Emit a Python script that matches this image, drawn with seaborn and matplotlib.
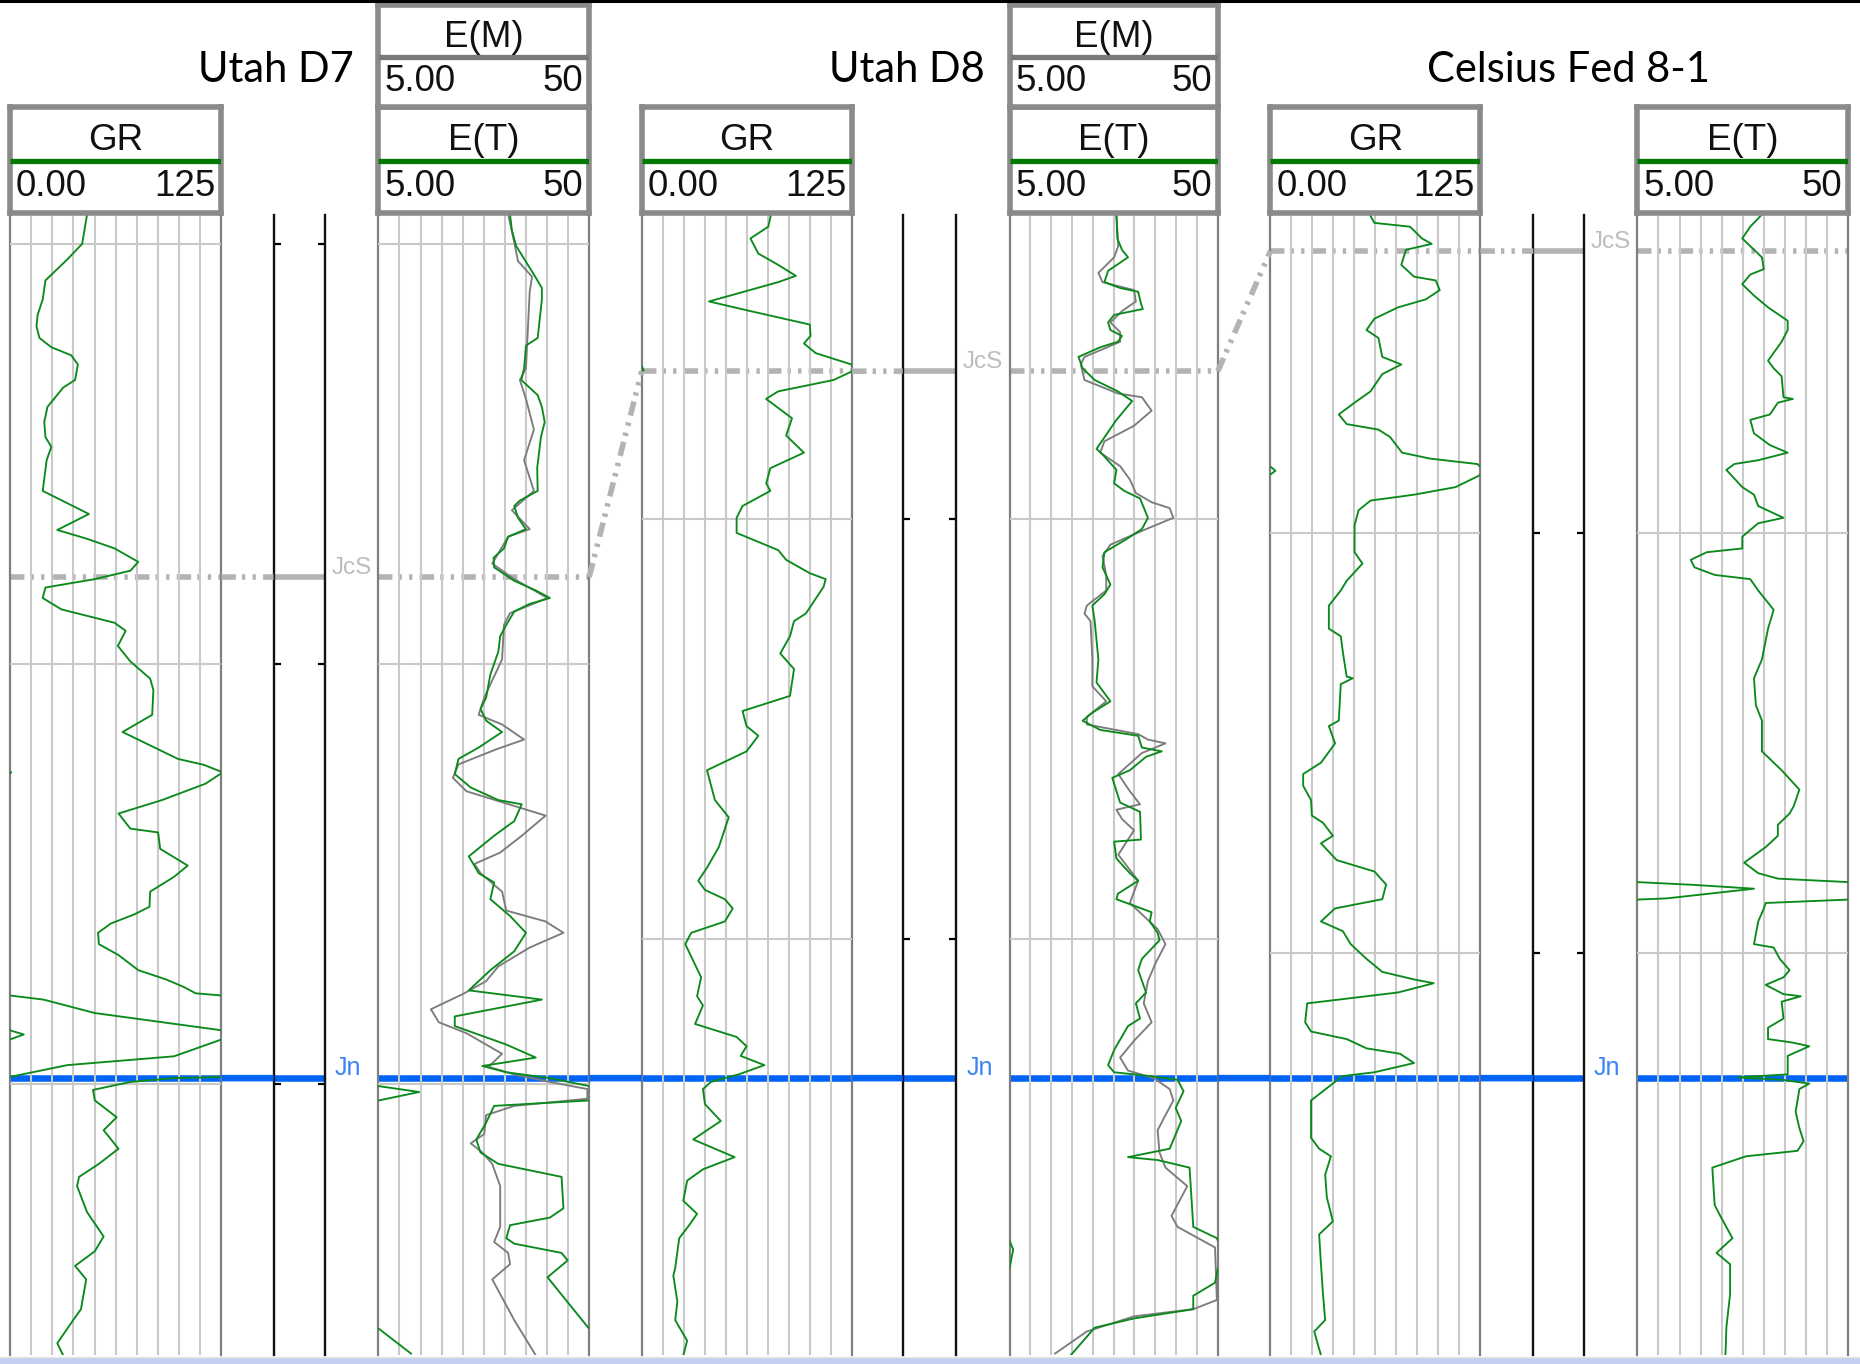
import numpy as np
import matplotlib
matplotlib.use("Agg")
import matplotlib.pyplot as plt
import matplotlib.transforms as mtransforms
from matplotlib.patches import ConnectionPatch, Rectangle
from matplotlib.lines import Line2D
import seaborn as sns

# ------------------------------------------------------------------ data
WELL_NAMES = ["Utah D7", "Utah D8", "Celsius Fed 8-1"]
GR_SCALE = (0.0, 125.0)
E_SCALE = (5.0, 50.0)
GR_LABELS = ("0.00", "125")
E_LABELS = ("5.00", "50")
WELL_TOP_DEPTH = [1693.0, 1427.6, 1124.2]   # ft at top of displayed interval
DEPTH_SPAN = 271.6                           # ft shown in every well
JCS_DEPTH = [1779.3, 1464.9, 1132.9]
JN_DEPTH = [1898.6, 1633.2, 1329.8]

D7_GR_DEPTH = [1693.0, 1695.9, 1700.0, 1703.7, 1708.7, 1713.2, 1716.9, 1719.6, 1722.4, 1724.6,
               1726.5, 1728.7, 1732.4, 1734.2, 1738.8, 1742.4, 1746.0, 1748.3, 1751.5, 1758.8,
               1764.3, 1768.1, 1770.2, 1772.5, 1775.7, 1777.8, 1779.8, 1781.8, 1784.3, 1787.0,
               1790.2, 1792.1, 1795.7, 1799.4, 1803.5, 1806.2, 1812.1, 1816.2, 1822.6, 1824.0,
               1825.8, 1828.5, 1832.4, 1835.6, 1839.2, 1840.1, 1844.0, 1848.0, 1850.7, 1854.2,
               1857.8, 1859.6, 1861.8, 1864.0, 1866.7, 1869.3, 1872.9, 1875.1, 1876.9, 1878.4,
               1878.9, 1879.9, 1883.1, 1887.2, 1888.2, 1889.4, 1893.4, 1895.5, 1898.3, 1898.6,
               1899.5, 1901.4, 1903.9, 1907.9, 1911.0, 1915.4, 1919.0, 1922.1, 1924.3, 1930.5,
               1936.3, 1939.8, 1943.3, 1946.5, 1953.6, 1956.2, 1961.7, 1964.6]
D7_GR_VALUE = [45.6, 44.4, 42.7, 33.9, 21.0, 19.4, 16.4, 15.7, 17.5, 24.5,
               36.2, 40.2, 38.5, 31.5, 22.2, 20.3, 21.0, 24.5, 21.7, 19.4,
               46.7, 28.0, 45.6, 61.9, 75.9, 71.2, 50.2, 21.0, 19.4, 30.4,
               61.9, 68.4, 63.8, 71.2, 82.9, 84.8, 84.1, 66.6, 99.3, 114.5,
               125.8, 115.6, 89.9, 64.2, 71.2, 87.6, 88.8, 105.1, 96.9, 82.9,
               82.5, 73.6, 59.6, 52.1, 52.6, 64.2, 75.9, 92.3, 102.8, 109.8,
               124.5, 144.9, 175.2, 250.0, 258.2, 250.0, 222.0, 158.9, 125.0, 97.0,
               71.2, 49.1, 50.2, 63.1, 55.4, 64.2, 52.6, 40.9, 39.7, 45.6,
               55.4, 50.2, 38.5, 45.1, 42.0, 37.4, 28.0, 31.5]

D7_ET_DEPTH = [1693.0, 1696.8, 1700.5, 1707.3, 1710.5, 1713.2, 1722.4, 1724.2, 1729.6, 1732.4,
               1736.0, 1738.8, 1742.4, 1746.0, 1753.3, 1758.8, 1761.1, 1762.4, 1765.2, 1767.9,
               1769.7, 1772.5, 1774.7, 1777.0, 1780.2, 1782.5, 1784.3, 1785.7, 1787.5, 1790.7,
               1793.4, 1797.1, 1802.5, 1808.0, 1810.7, 1813.5, 1816.2, 1819.9, 1822.6, 1826.2,
               1829.4, 1832.4, 1833.4, 1837.4, 1840.9, 1845.8, 1849.8, 1852.0, 1856.0, 1860.0,
               1864.0, 1868.4, 1872.9, 1877.7, 1879.9, 1883.9, 1886.2, 1890.6, 1893.7, 1895.7,
               1897.2, 1898.6, 1900.5, 1901.9, 1903.9, 1905.2, 1909.2, 1913.2, 1916.3, 1919.0,
               1922.1, 1929.6, 1931.8, 1933.6, 1936.7, 1938.0, 1940.2, 1942.0, 1946.0, 1958.0,
               1964.2]
D7_ET_VALUE = [33.1, 33.5, 34.4, 38.2, 39.9, 39.9, 39.0, 36.5, 36.1, 35.5,
               39.0, 39.9, 40.5, 39.7, 38.9, 39.0, 35.2, 34.0, 34.8, 36.5,
               32.7, 31.8, 29.6, 29.7, 34.0, 38.6, 41.6, 37.3, 34.0, 32.3,
               31.0, 30.6, 28.9, 28.0, 26.8, 28.0, 31.4, 26.4, 22.1, 21.3,
               24.7, 30.6, 35.6, 34.0, 29.7, 24.3, 26.4, 29.7, 28.9, 33.1,
               36.5, 34.0, 28.9, 24.3, 39.9, 21.3, 21.3, 32.3, 38.6, 27.2,
               32.3, 41.6, 50.1, 58.7, 50.1, 29.7, 28.0, 25.9, 26.8, 30.6,
               44.1, 44.5, 41.6, 33.1, 32.3, 34.0, 44.1, 45.4, 41.1, 49.8,
               57.0]

D7_EM_DEPTH = [1693.0, 1699.6, 1704.1, 1707.8, 1711.4, 1720.5, 1729.6, 1732.4, 1736.9, 1744.2,
               1751.5, 1758.8, 1763.4, 1767.9, 1769.7, 1776.1, 1779.8, 1784.3, 1787.9, 1790.7,
               1798.9, 1808.0, 1812.1, 1814.4, 1818.0, 1820.3, 1823.9, 1827.1, 1830.3, 1836.1,
               1840.9, 1844.9, 1847.6, 1849.8, 1854.2, 1858.7, 1861.3, 1864.0, 1867.5, 1872.0,
               1875.5, 1878.6, 1882.2, 1885.3, 1887.9, 1892.8, 1895.9, 1897.7, 1899.5, 1901.2,
               1903.5, 1905.2, 1907.4, 1911.9, 1914.1, 1916.3, 1919.0, 1924.3, 1934.0, 1937.6,
               1940.2, 1942.9, 1946.5, 1956.2, 1964.6]
D7_EM_VALUE = [32.7, 34.0, 34.8, 37.8, 37.3, 36.9, 36.5, 35.2, 36.5, 38.2,
               36.1, 38.2, 33.5, 37.3, 32.7, 29.3, 34.0, 41.1, 33.1, 31.8,
               31.4, 27.6, 26.4, 31.4, 36.1, 30.2, 22.1, 20.9, 23.8, 40.7,
               35.6, 31.0, 25.5, 26.8, 31.4, 32.3, 40.7, 44.5, 37.3, 30.6,
               28.0, 23.0, 16.2, 17.9, 23.8, 31.4, 28.5, 34.0, 41.6, 49.6,
               49.6, 34.0, 28.0, 27.6, 24.7, 27.2, 29.3, 31.0, 31.0, 29.7,
               32.7, 33.1, 29.3, 34.0, 38.6]

D8_GR_DEPTH = [1427.6, 1430.5, 1433.3, 1436.9, 1439.6, 1442.2, 1443.7, 1448.3, 1450.6, 1453.8,
               1456.5, 1458.3, 1460.6, 1463.3, 1464.7, 1467.0, 1469.7, 1471.5, 1476.1, 1480.2,
               1484.3, 1488.0, 1491.6, 1493.4, 1497.0, 1499.8, 1503.4, 1507.5, 1509.8, 1513.0,
               1514.4, 1516.2, 1522.6, 1524.4, 1528.0, 1532.1, 1535.8, 1542.2, 1545.8, 1549.4,
               1551.7, 1555.4, 1559.9, 1567.0, 1571.1, 1578.2, 1583.1, 1586.2, 1588.4, 1590.6,
               1592.8, 1595.9, 1598.6, 1601.3, 1609.2, 1613.7, 1615.9, 1620.3, 1623.4, 1625.6,
               1627.9, 1630.1, 1632.3, 1634.1, 1635.8, 1639.4, 1643.4, 1647.8, 1652.0, 1654.9,
               1657.6, 1662.4, 1665.5, 1668.2, 1671.3, 1678.4, 1680.2, 1686.4, 1690.8, 1695.7,
               1699.2]
D8_GR_VALUE = [76.8, 75.2, 64.6, 69.3, 81.1, 91.6, 81.1, 40.0, 64.6, 99.9,
               100.3, 96.4, 103.4, 124.6, 126.2, 114.0, 81.1, 73.9, 89.3, 85.8,
               96.4, 76.4, 74.0, 76.4, 59.9, 56.4, 56.4, 81.1, 85.8, 99.9,
               109.3, 108.1, 97.5, 90.5, 88.1, 82.3, 90.5, 88.1, 59.9, 62.3,
               69.3, 62.3, 38.8, 43.5, 51.7, 45.8, 38.8, 33.6, 37.6, 49.4,
               54.1, 49.4, 29.4, 25.9, 35.3, 32.9, 36.4, 31.7, 56.4, 62.3,
               58.8, 72.9, 57.6, 41.1, 36.4, 37.6, 47.0, 30.6, 55.2, 36.4,
               27.0, 24.7, 32.9, 28.2, 22.3, 19.9, 18.8, 21.2, 19.9, 27.0,
               24.7]

D8_ET_DEPTH = [1427.6, 1433.3, 1436.0, 1437.8, 1441.0, 1443.7, 1445.1, 1446.0, 1448.8, 1450.1,
               1451.5, 1453.3, 1455.1, 1456.5, 1457.9, 1459.2, 1461.5, 1464.2, 1467.0, 1469.7,
               1472.0, 1476.5, 1483.4, 1484.7, 1488.4, 1491.6, 1493.4, 1495.2, 1499.8, 1502.5,
               1505.2, 1508.0, 1511.6, 1515.7, 1518.0, 1520.7, 1524.4, 1533.5, 1539.0, 1543.5,
               1546.2, 1548.1, 1550.3, 1551.7, 1554.5, 1555.4, 1556.7, 1559.9, 1561.7, 1567.6,
               1569.8, 1576.4, 1576.9, 1580.9, 1584.4, 1586.2, 1589.3, 1590.6, 1593.7, 1595.9,
               1598.6, 1600.4, 1604.8, 1607.5, 1612.8, 1615.4, 1619.0, 1620.8, 1626.5, 1630.1,
               1631.8, 1632.7, 1633.6, 1636.3, 1640.3, 1643.4, 1650.0, 1652.0, 1652.7, 1654.5,
               1668.6, 1671.3, 1674.0, 1681.9, 1685.0, 1688.2, 1690.4, 1692.6, 1699.2]
D8_ET_VALUE = [28.1, 28.3, 29.3, 30.6, 26.3, 25.5, 28.9, 32.8, 33.4, 33.8,
               27.6, 26.3, 26.8, 29.3, 28.4, 24.6, 19.9, 20.8, 23.4, 28.4,
               31.5, 28.1, 23.8, 25.1, 28.1, 27.6, 29.8, 33.2, 34.9, 33.6,
               29.8, 25.5, 25.1, 26.8, 25.5, 22.9, 23.4, 24.2, 23.8, 26.8,
               22.9, 20.8, 24.6, 32.8, 33.6, 37.9, 34.5, 31.0, 27.2, 28.9,
               33.2, 33.4, 27.6, 28.1, 31.0, 32.8, 28.4, 28.1, 35.7, 35.3,
               37.0, 37.4, 33.6, 32.8, 34.5, 32.3, 33.2, 30.6, 27.6, 26.3,
               27.6, 35.3, 41.3, 42.6, 40.9, 42.1, 39.6, 30.6, 37.0, 43.9,
               44.7, 49.8, 50.8, 49.4, 44.7, 44.7, 31.9, 23.4, 18.2]

D8_EM_DEPTH = [1427.6, 1435.1, 1437.8, 1441.5, 1443.7, 1445.6, 1448.3, 1450.6, 1453.3, 1455.6,
               1457.9, 1461.5, 1463.3, 1467.0, 1470.2, 1471.1, 1474.3, 1477.9, 1481.6, 1484.3,
               1487.5, 1490.7, 1493.9, 1496.1, 1497.5, 1499.8, 1502.5, 1506.2, 1508.9, 1513.5,
               1517.1, 1520.7, 1522.6, 1524.4, 1533.5, 1539.9, 1543.5, 1547.2, 1549.0, 1551.3,
               1552.6, 1553.5, 1555.8, 1560.8, 1564.9, 1568.0, 1569.3, 1571.5, 1574.2, 1580.0,
               1586.2, 1591.5, 1597.7, 1601.3, 1605.7, 1610.1, 1615.4, 1619.9, 1624.3, 1628.3,
               1631.4, 1633.2, 1635.8, 1638.5, 1642.0, 1645.6, 1650.9, 1654.5, 1658.9, 1666.0,
               1668.6, 1673.5, 1686.0, 1688.2, 1689.9, 1693.5, 1698.8]
D8_EM_VALUE = [28.1, 28.5, 27.6, 24.2, 25.1, 31.9, 32.3, 29.3, 26.8, 28.9,
               28.9, 21.2, 20.4, 21.2, 28.4, 33.6, 35.7, 31.9, 25.5, 24.6,
               28.9, 31.0, 32.3, 35.7, 39.6, 40.4, 34.5, 26.8, 25.1, 25.9,
               25.9, 21.7, 21.2, 22.5, 22.9, 22.9, 25.9, 21.7, 21.7, 32.8,
               34.9, 38.7, 33.6, 28.5, 31.0, 33.2, 28.1, 29.3, 31.9, 28.5,
               32.8, 31.0, 37.0, 38.7, 36.6, 34.9, 34.0, 35.7, 31.9, 28.9,
               30.6, 36.2, 39.6, 40.4, 38.7, 37.0, 37.4, 38.7, 43.4, 40.0,
               41.3, 49.4, 49.8, 44.7, 31.9, 21.7, 14.8]

CF_GR_DEPTH = [1124.2, 1126.2, 1127.1, 1129.9, 1131.2, 1132.6, 1136.2, 1139.0, 1139.9, 1142.2,
               1144.4, 1146.3, 1149.0, 1151.7, 1153.6, 1158.1, 1159.9, 1162.2, 1166.3, 1169.0,
               1171.8, 1174.1, 1175.4, 1177.2, 1180.9, 1182.3, 1183.6, 1185.2, 1186.4, 1189.1,
               1190.9, 1192.3, 1194.6, 1198.2, 1204.6, 1207.3, 1211.4, 1213.7, 1217.3, 1222.8,
               1224.6, 1228.3, 1234.2, 1234.6, 1236.0, 1244.7, 1246.0, 1250.1, 1254.7, 1257.4,
               1260.2, 1263.6, 1267.3, 1269.0, 1272.1, 1273.9, 1277.9, 1280.6, 1283.7, 1287.2,
               1289.4, 1292.5, 1294.8, 1297.9, 1301.4, 1304.5, 1306.3, 1307.2, 1309.4, 1312.0,
               1316.5, 1318.7, 1320.5, 1322.7, 1324.0, 1326.2, 1328.4, 1329.3, 1330.7, 1335.1,
               1344.0, 1346.6, 1348.4, 1352.8, 1358.2, 1363.9, 1367.0, 1374.1, 1381.2, 1387.4,
               1390.1, 1395.8]
CF_GR_VALUE = [59.1, 61.9, 83.1, 90.2, 96.0, 80.7, 77.9, 85.5, 98.4, 100.8,
               92.5, 76.0, 61.9, 57.2, 64.3, 66.6, 77.9, 66.6, 59.6, 50.1,
               40.7, 45.4, 64.3, 71.3, 78.4, 94.9, 123.1, 128.0, 124.0, 110.2,
               85.5, 59.6, 52.5, 50.1, 50.1, 54.8, 45.4, 41.9, 34.8, 34.8,
               41.9, 43.1, 45.4, 49.0, 41.9, 40.7, 34.8, 38.5, 30.1, 19.5,
               19.5, 24.2, 24.7, 31.3, 37.2, 30.1, 39.5, 61.9, 68.9, 66.6,
               38.4, 30.1, 43.1, 47.8, 57.2, 66.6, 85.5, 97.2, 76.0, 21.9,
               20.7, 24.2, 45.4, 57.2, 77.2, 85.5, 61.9, 43.1, 38.4, 24.2,
               24.2, 29.0, 36.0, 32.6, 33.6, 37.2, 29.0, 30.1, 31.3, 32.6,
               26.1, 30.1]

CF_ET_DEPTH = [1124.2, 1127.1, 1129.9, 1134.4, 1137.2, 1138.5, 1140.8, 1143.5, 1146.3, 1149.5,
               1151.7, 1154.5, 1159.0, 1160.8, 1162.7, 1167.7, 1168.1, 1169.0, 1171.8, 1173.1,
               1176.3, 1179.1, 1180.9, 1182.7, 1183.6, 1185.0, 1189.1, 1190.9, 1193.6, 1196.4,
               1197.7, 1200.9, 1203.7, 1204.6, 1206.4, 1208.2, 1210.0, 1211.0, 1213.7, 1218.3,
               1222.8, 1230.1, 1234.6, 1241.0, 1244.7, 1252.0, 1256.5, 1261.1, 1265.0, 1266.8,
               1269.5, 1272.1, 1274.8, 1278.5, 1281.0, 1282.3, 1283.8, 1284.7, 1287.0, 1288.1,
               1289.4, 1292.5, 1297.9, 1298.7, 1301.4, 1304.1, 1305.8, 1307.6, 1309.8, 1310.3,
               1311.6, 1315.6, 1317.8, 1320.5, 1321.3, 1322.2, 1324.5, 1328.9, 1329.6, 1330.2,
               1331.1, 1332.4, 1337.8, 1341.7, 1344.8, 1347.1, 1348.4, 1351.1, 1360.0, 1362.6,
               1367.9, 1371.4, 1374.1, 1381.2, 1389.2, 1395.8]
CF_ET_VALUE = [31.6, 29.1, 27.4, 31.6, 32.0, 29.1, 27.4, 29.9, 32.9, 37.1,
               37.1, 35.8, 32.9, 34.1, 35.8, 36.2, 38.2, 35.0, 33.3, 29.1,
               29.9, 33.3, 37.1, 30.8, 25.7, 24.0, 27.4, 29.9, 30.8, 36.2,
               30.8, 27.4, 27.4, 19.8, 16.4, 17.2, 21.5, 29.1, 30.8, 34.1,
               32.9, 31.6, 29.9, 30.3, 31.6, 31.6, 35.8, 39.6, 38.4, 37.5,
               35.0, 35.0, 32.4, 27.8, 30.8, 35.0, 62.2, 74.9, 56.3, 32.4,
               32.0, 30.8, 29.9, 34.1, 35.4, 37.5, 36.2, 32.4, 36.2, 39.9,
               35.8, 36.2, 32.9, 32.9, 38.0, 41.7, 37.1, 37.1, 26.5, 36.0,
               41.7, 39.6, 38.8, 39.6, 40.5, 39.2, 28.2, 21.0, 21.5, 22.7,
               25.3, 21.9, 24.8, 24.8, 24.0, 23.8]

# ------------------------------------------------------------------ style
GREEN = "#0b8a1c"
GRAYCURVE = "#7c7c7c"
GRID = "#c9c9c9"
EDGE = "#7f7f7f"
BOXC = "#8a8a8a"
HDR_GREEN = "#007a00"
JCS_COLOR = "#b3b3b3"
JCS_TEXT = "#bdbdbd"
JCS_LW = 4.0
JN_COLOR = "#0064f7"
JN_TEXT = "#3a84f7"
JN_LW = 4.7
DASHDOT2 = (0, (2.6, 1.1, 0.6, 1.3, 0.6, 1.3))

sns.set_style("white")
plt.rcParams["font.family"] = ["Liberation Sans", "DejaVu Sans"]

W, H = 1860, 1364
fig = plt.figure(figsize=(W / 100, H / 100), dpi=100)
fig.patch.set_facecolor("white")

TRACK_TOP, TRACK_BOT = 214.5, 1355.4
LAYOUT = [  # (GR x0,x1), (depth x0,x1), (E x0,x1)  in pixels
    ((9.9, 221.4), (273.6, 325.0), (378.4, 589.2)),
    ((641.7, 852.1), (902.7, 956.1), (1009.5, 1217.8)),
    ((1270.4, 1480.4), (1533.4, 1584.0), (1637.4, 1848.1)),
]
TITLE_POS = [(353.5, "right"), (984.5, "right"), (1427.0, "left")]


def box(x0, x1, y0, y1):
    return [x0 / W, 1 - y1 / H, (x1 - x0) / W, (y1 - y0) / H]


def wrap_segments(depth, value, lo, hi):
    span = hi - lo
    d = np.asarray(depth, float)
    v = np.asarray(value, float)
    k = np.floor((v - lo) / span).astype(int)
    segs = []
    cd, cv = [d[0]], [v[0]]
    cur = k[0]
    for i in range(1, len(d)):
        while k[i] != cur:
            step = 1 if k[i] > cur else -1
            b = lo + span * (cur + (1 if step > 0 else 0))
            t = (b - v[i - 1]) / (v[i] - v[i - 1])
            db = d[i - 1] + t * (d[i] - d[i - 1])
            cd.append(db)
            cv.append(b)
            segs.append((np.array(cd), np.array(cv) - cur * span))
            cur += step
            cd, cv = [db], [b]
        cd.append(d[i])
        cv.append(v[i])
    segs.append((np.array(cd), np.array(cv) - cur * span))
    return segs


def draw_curve(ax, depth, value, scale, color):
    lo, hi = scale
    for dd, vv in wrap_segments(depth, value, lo, hi):
        sns.lineplot(x=vv, y=dd, ax=ax, color=color, linewidth=1.35, sort=False,
                     estimator=None, errorbar=None, legend=False, zorder=3)


def depth_ticks(top):
    return np.arange(np.ceil(top / 100.0) * 100, top + DEPTH_SPAN, 100)


def make_track(xs):
    ax = fig.add_axes(box(xs[0], xs[1], TRACK_TOP, TRACK_BOT))
    ax.patch.set_alpha(0)
    return ax


def finish_track(ax, top, scale):
    lo, hi = scale
    ax.set_xlim(lo, hi)
    ax.set_ylim(top + DEPTH_SPAN, top)
    ax.set_xticks(np.linspace(lo, hi, 11)[1:-1])
    ax.set_yticks(depth_ticks(top))
    ax.set_axisbelow(False)
    ax.grid(True, color=GRID, lw=1.5)
    ax.tick_params(length=0, labelbottom=False, labelleft=False)
    ax.set_xlabel("")
    ax.set_ylabel("")
    for s in ("top", "bottom"):
        ax.spines[s].set_visible(False)
    for s in ("left", "right"):
        ax.spines[s].set_color(EDGE)
        ax.spines[s].set_linewidth(1.6)


def make_depth(xs, top):
    ax = fig.add_axes(box(xs[0], xs[1], TRACK_TOP, TRACK_BOT))
    ax.patch.set_alpha(0)
    ax.set_xlim(0, 1)
    ax.set_ylim(top + DEPTH_SPAN, top)
    ax.set_xticks([])
    ax.set_yticks(depth_ticks(top))
    ax.tick_params(axis="y", direction="in", length=5, width=1.6, color="black",
                   left=True, right=True, labelleft=False, labelright=False)
    for s in ("top", "bottom"):
        ax.spines[s].set_visible(False)
    for s in ("left", "right"):
        ax.spines[s].set_color("#111111")
        ax.spines[s].set_linewidth(1.7)
    return ax


def make_header(xs, y0, y1, name, labels, line_color):
    ax = fig.add_axes(box(xs[0], xs[1], y0, y1))
    ax.set_xlim(0, 1)
    ax.set_ylim(0, 1)
    ax.set_xticks([])
    ax.set_yticks([])
    for s in ax.spines.values():
        s.set_color(BOXC)
        s.set_linewidth(4.0)
    ax.axhline(0.49, color=line_color, lw=3.8, solid_capstyle="butt", zorder=3)
    ax.text(0.5, 0.68, name, ha="center", va="center", fontsize=26.5, color="#111111")
    ax.text(0.028, 0.25, labels[0], ha="left", va="center", fontsize=26.5, color="#111111")
    ax.text(0.972, 0.25, labels[1], ha="right", va="center", fontsize=26.5, color="#111111")
    return ax


def connect(axA, xyA, axB, xyB, **kw):
    cp = ConnectionPatch(xyA=xyA, coordsA=axA.transData, xyB=xyB, coordsB=axB.transData,
                         arrowstyle="-", **kw)
    cp.set_capstyle("butt")
    fig.add_artist(cp)


WELL_CURVES = [
    ((D7_GR_DEPTH, D7_GR_VALUE), (D7_ET_DEPTH, D7_ET_VALUE), (D7_EM_DEPTH, D7_EM_VALUE)),
    ((D8_GR_DEPTH, D8_GR_VALUE), (D8_ET_DEPTH, D8_ET_VALUE), (D8_EM_DEPTH, D8_EM_VALUE)),
    ((CF_GR_DEPTH, CF_GR_VALUE), (CF_ET_DEPTH, CF_ET_VALUE), None),
]

axes_gr, axes_e = [], []
for w in range(3):
    (gx, dx, ex) = LAYOUT[w]
    top = WELL_TOP_DEPTH[w]
    gr, et, em = WELL_CURVES[w]

    ax_gr = make_track(gx)
    draw_curve(ax_gr, gr[0], gr[1], GR_SCALE, GREEN)
    finish_track(ax_gr, top, GR_SCALE)

    ax_dp = make_depth(dx, top)

    ax_e = make_track(ex)
    if em is not None:
        draw_curve(ax_e, em[0], em[1], E_SCALE, GRAYCURVE)
    draw_curve(ax_e, et[0], et[1], E_SCALE, GREEN)
    finish_track(ax_e, top, E_SCALE)

    # headers
    make_header(gx, 107, 212.5, "GR", GR_LABELS, HDR_GREEN)
    make_header(ex, 107, 212.5, "E(T)", E_LABELS, HDR_GREEN)
    if em is not None:
        make_header(ex, 4.5, 107, "E(M)", E_LABELS, "#7a7a7a")

    # well title
    tx, ha = TITLE_POS[w]
    fig.text(tx / W, 1 - 70.0 / H, WELL_NAMES[w], ha=ha, va="center",
             fontsize=30, family=["Lato", "DejaVu Sans"], color="black")

    # formation tops inside the well
    jcs, jn = JCS_DEPTH[w], JN_DEPTH[w]
    for ax in (ax_gr, ax_e):
        ax.axhline(jcs, color=JCS_COLOR, lw=JCS_LW, ls=DASHDOT2, dash_capstyle="butt", zorder=2)
        ax.axhline(jn, color=JN_COLOR, lw=JN_LW, zorder=2)
    ax_dp.axhline(jcs, color=JCS_COLOR, lw=JCS_LW, zorder=1)
    ax_dp.axhline(jn, color=JN_COLOR, lw=JN_LW, zorder=1)
    connect(ax_gr, (GR_SCALE[1], jcs), ax_dp, (0, jcs), color=JCS_COLOR, lw=JCS_LW,
            linestyle=DASHDOT2, zorder=1)
    connect(ax_gr, (GR_SCALE[1], jn), ax_dp, (0, jn), color=JN_COLOR, lw=JN_LW, zorder=1)

    trans = mtransforms.blended_transform_factory(ax_dp.transAxes, ax_dp.transData)
    ax_dp.text(1, jcs, "JcS", transform=mtransforms.offset_copy(trans, fig, x=7, y=3, units="dots"),
               ha="left", va="baseline", fontsize=17.5, color=JCS_TEXT, clip_on=False)
    ax_dp.text(1, jn, "Jn", transform=mtransforms.offset_copy(trans, fig, x=10, y=3, units="dots"),
               ha="left", va="baseline", fontsize=18, color=JN_TEXT, clip_on=False)

    axes_gr.append(ax_gr)
    axes_e.append(ax_e)

# correlation between wells
for w in range(2):
    connect(axes_e[w], (E_SCALE[1], JCS_DEPTH[w]), axes_gr[w + 1], (GR_SCALE[0], JCS_DEPTH[w + 1]),
            color=JCS_COLOR, lw=JCS_LW, linestyle=DASHDOT2, zorder=1)
    connect(axes_e[w], (E_SCALE[1], JN_DEPTH[w]), axes_gr[w + 1], (GR_SCALE[0], JN_DEPTH[w + 1]),
            color=JN_COLOR, lw=JN_LW, zorder=1)

# window frame decorations
fig.add_artist(Line2D([0, 1], [1 - 1.0 / H, 1 - 1.0 / H], transform=fig.transFigure,
                      color="black", lw=2.2))
fig.add_artist(Rectangle((0, 0), 1, 7.0 / H, transform=fig.transFigure,
                         facecolor="#c3d0f1", edgecolor="none", zorder=5))
fig.add_artist(Line2D([0, 1], [7.5 / H, 7.5 / H], transform=fig.transFigure,
                      color="#e6e8e0", lw=1.0, zorder=5))

fig.savefig("out.png", dpi=100, facecolor="white")
